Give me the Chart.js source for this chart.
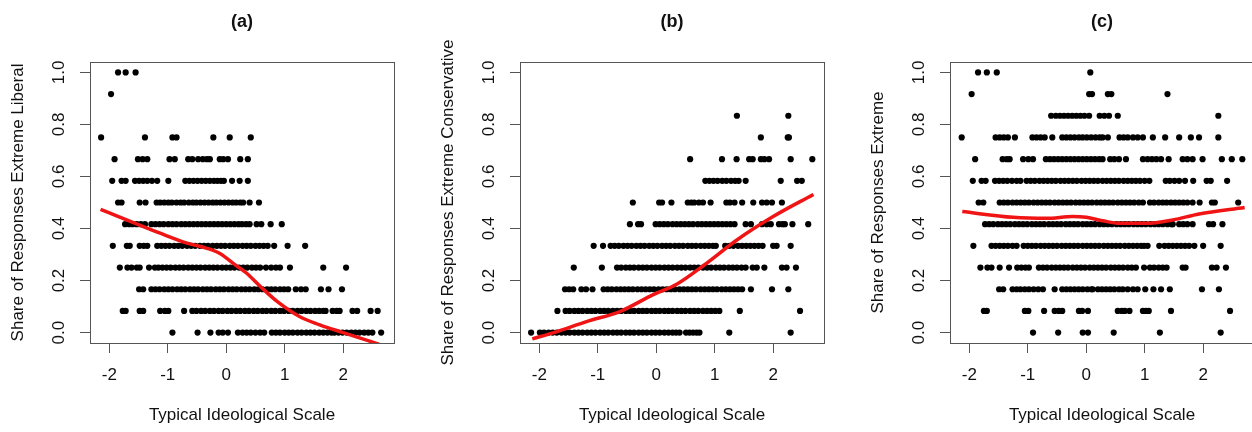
<!DOCTYPE html>
<html>
<head>
<meta charset="utf-8">
<script src="https://cdn.jsdelivr.net/npm/chart.js@4.4.1/dist/chart.umd.min.js"></script>
<style>
  html, body { margin: 0; padding: 0; background: #fff; overflow: hidden; }
  body { width: 1252px; height: 432px; position: relative; }
  canvas { position: absolute; top: 0; }
</style>
</head>
<body>
<canvas id="chartA" width="430" height="432" style="left:0px"></canvas>
<canvas id="chartB" width="430" height="432" style="left:430px"></canvas>
<canvas id="chartC" width="430" height="432" style="left:860px"></canvas>
<script>
// share levels: k/12 responses
const shareLevels = [0, 1/12, 2/12, 3/12, 4/12, 5/12, 6/12, 7/12, 8/12, 9/12, 10/12, 11/12, 1];
const xTicks = [-2, -1, 0, 1, 2];
const yTicks = [0, 0.2, 0.4, 0.6, 0.8, 1.0];

// x positions of the dots on each share level (index = level k)
const liberalRows = [
  [-0.92, -0.49, -0.27, -0.13, -0.06, 0.03, 0.20, 0.28, 0.35, 0.42, 0.50, 0.58, 0.65, 0.78, 0.85, 0.92, 1.00, 1.07, 1.14, 1.22, 1.29, 1.37, 1.44, 1.51, 1.59, 1.66, 1.73, 1.80, 1.85, 1.92, 1.99, 2.06, 2.14, 2.21, 2.28, 2.36, 2.43, 2.50, 2.65],
  [-1.77, -1.72, -1.48, -1.42, -1.13, -1.05, -0.99, -0.72, -0.58, -0.51, -0.43, -0.36, -0.28, -0.21, -0.13, -0.06, 0.02, 0.09, 0.17, 0.24, 0.32, 0.39, 0.47, 0.54, 0.62, 0.69, 0.77, 0.84, 0.92, 0.99, 1.07, 1.14, 1.22, 1.29, 1.37, 1.44, 1.52, 1.59, 1.66, 1.70, 1.82, 1.89, 1.94, 2.16, 2.24, 2.47, 2.59],
  [-1.49, -1.42, -1.28, -1.21, -1.14, -1.06, -0.99, -0.92, -0.84, -0.77, -0.70, -0.62, -0.55, -0.48, -0.40, -0.33, -0.26, -0.18, -0.11, -0.04, 0.04, 0.11, 0.18, 0.26, 0.33, 0.40, 0.48, 0.55, 0.62, 0.70, 0.77, 0.84, 0.92, 0.99, 1.06, 1.19, 1.28, 1.36, 1.62, 1.75, 1.98],
  [-1.82, -1.69, -1.62, -1.53, -1.48, -1.32, -1.22, -1.16, -1.09, -1.02, -0.95, -0.87, -0.80, -0.73, -0.65, -0.58, -0.51, -0.44, -0.36, -0.29, -0.22, -0.15, -0.07, 0.00, 0.07, 0.14, 0.22, 0.29, 0.36, 0.44, 0.51, 0.58, 0.68, 0.77, 0.85, 0.92, 1.09, 1.66, 2.05],
  [-1.94, -1.70, -1.65, -1.48, -1.41, -1.35, -1.18, -1.11, -1.04, -0.97, -0.89, -0.82, -0.75, -0.67, -0.60, -0.53, -0.45, -0.38, -0.31, -0.23, -0.16, -0.09, -0.02, 0.06, 0.13, 0.20, 0.28, 0.35, 0.42, 0.50, 0.57, 0.64, 0.71, 0.82, 1.05, 1.35],
  [-1.73, -1.66, -1.60, -1.53, -1.46, -1.39, -1.28, -1.21, -1.14, -1.07, -0.99, -0.92, -0.85, -0.77, -0.70, -0.63, -0.56, -0.49, -0.42, -0.35, -0.28, -0.21, -0.14, -0.07, 0.00, 0.07, 0.14, 0.21, 0.27, 0.34, 0.40, 0.52, 0.60, 0.76, 0.95],
  [-1.85, -1.79, -1.48, -1.38, -1.19, -1.13, -1.06, -0.99, -0.93, -0.85, -0.78, -0.72, -0.64, -0.57, -0.51, -0.44, -0.37, -0.30, -0.23, -0.17, -0.10, -0.03, 0.04, 0.11, 0.17, 0.24, 0.29, 0.40, 0.56],
  [-1.95, -1.79, -1.72, -1.56, -1.49, -1.42, -1.35, -1.27, -1.18, -0.99, -0.70, -0.63, -0.56, -0.49, -0.42, -0.35, -0.28, -0.21, -0.15, -0.09, -0.04, 0.10, 0.23, 0.37],
  [-1.91, -1.51, -1.43, -1.35, -0.97, -0.88, -0.65, -0.58, -0.48, -0.40, -0.33, -0.28, -0.11, -0.05, 0.03, 0.24, 0.37],
  [-2.14, -1.39, -0.92, -0.85, -0.22, 0.06, 0.42],
  [],
  [-1.97],
  [-1.85, -1.72, -1.55]
];

const conservativeRows = [
  [-2.14, -1.99, -1.92, -1.84, -1.77, -1.70, -1.62, -1.55, -1.48, -1.40, -1.33, -1.26, -1.18, -1.11, -1.04, -0.96, -0.89, -0.82, -0.74, -0.67, -0.60, -0.52, -0.45, -0.38, -0.30, -0.23, -0.16, -0.08, -0.01, 0.06, 0.14, 0.21, 0.28, 0.34, 0.40, 0.51, 0.57, 0.63, 0.69, 0.74, 1.25, 2.30],
  [-1.69, -1.55, -1.48, -1.40, -1.33, -1.26, -1.18, -1.11, -1.04, -0.96, -0.89, -0.82, -0.74, -0.67, -0.60, -0.52, -0.45, -0.38, -0.30, -0.23, -0.16, -0.08, -0.01, 0.06, 0.14, 0.21, 0.28, 0.36, 0.43, 0.50, 0.58, 0.65, 0.72, 0.80, 0.87, 0.94, 1.01, 1.08, 1.43, 2.46],
  [-1.56, -1.49, -1.42, -1.28, -1.20, -1.09, -0.90, -0.83, -0.76, -0.68, -0.61, -0.54, -0.47, -0.40, -0.32, -0.25, -0.18, -0.11, -0.04, 0.04, 0.11, 0.18, 0.25, 0.32, 0.40, 0.47, 0.54, 0.61, 0.68, 0.76, 0.83, 0.90, 0.97, 1.04, 1.12, 1.19, 1.26, 1.33, 1.40, 1.47, 1.62, 1.98, 2.26],
  [-1.41, -0.93, -0.67, -0.60, -0.52, -0.45, -0.38, -0.30, -0.23, -0.16, -0.08, -0.01, 0.06, 0.14, 0.21, 0.28, 0.36, 0.43, 0.50, 0.58, 0.65, 0.72, 0.80, 0.87, 0.94, 1.02, 1.09, 1.16, 1.24, 1.31, 1.38, 1.46, 1.53, 1.65, 1.72, 1.85, 2.15, 2.23, 2.39],
  [-1.07, -0.91, -0.78, -0.71, -0.64, -0.56, -0.49, -0.42, -0.34, -0.27, -0.20, -0.12, -0.05, 0.02, 0.10, 0.17, 0.24, 0.32, 0.39, 0.46, 0.54, 0.61, 0.68, 0.76, 0.83, 0.90, 0.97, 1.02, 1.18, 1.25, 1.32, 1.40, 1.47, 1.54, 1.61, 1.68, 1.75, 1.82, 2.00, 2.06, 2.30],
  [-0.45, -0.31, -0.26, -0.01, 0.06, 0.13, 0.20, 0.28, 0.35, 0.42, 0.49, 0.56, 0.63, 0.71, 0.78, 0.85, 0.92, 0.99, 1.06, 1.13, 1.20, 1.27, 1.34, 1.53, 1.62, 1.81, 1.89, 1.96, 2.10, 2.16, 2.20, 2.33, 2.60],
  [-0.40, 0.05, 0.10, 0.26, 0.54, 0.60, 0.65, 0.73, 0.80, 0.93, 1.20, 1.26, 1.34, 1.47, 1.66, 1.81, 1.89, 1.98, 2.15],
  [0.84, 0.91, 0.98, 1.05, 1.13, 1.20, 1.28, 1.35, 1.41, 1.53, 2.13, 2.41, 2.49],
  [0.58, 1.125, 1.375, 1.59, 1.65, 1.79, 1.85, 1.93, 2.30, 2.67],
  [1.79, 2.25, 2.27],
  [1.38, 2.26],
  [],
  []
];

const extremeRows = [
  [-0.91, -0.48, -0.06, 0.03, 0.47, 1.26, 2.30],
  [-1.75, -1.70, -1.05, -0.99, -0.72, -0.54, -0.47, -0.41, -0.125, -0.07, 0.03, 0.54, 0.61, 0.66, 0.74, 0.97, 1.02, 1.07, 1.45, 2.46],
  [-1.49, -1.42, -1.26, -1.19, -1.125, -1.05, -0.98, -0.90, -0.82, -0.74, -0.54, -0.41, -0.34, -0.27, -0.20, -0.13, -0.06, 0.02, 0.09, 0.11, 0.20, 0.27, 0.34, 0.41, 0.48, 0.56, 0.625, 0.71, 0.80, 0.88, 1.01, 1.15, 1.28, 1.43, 1.98, 2.27],
  [-1.81, -1.69, -1.62, -1.48, -1.32, -1.18, -1.11, -1.04, -0.98, -0.81, -0.74, -0.67, -0.59, -0.52, -0.45, -0.38, -0.31, -0.23, -0.16, -0.09, -0.02, 0.06, 0.13, 0.20, 0.27, 0.34, 0.42, 0.49, 0.56, 0.63, 0.71, 0.78, 0.85, 0.99, 1.09, 1.16, 1.24, 1.31, 1.375, 1.65, 1.70, 2.15, 2.23, 2.39],
  [-1.93, -1.62, -1.55, -1.48, -1.41, -1.34, -1.26, -1.19, -1.07, -1.00, -0.93, -0.86, -0.78, -0.71, -0.64, -0.57, -0.50, -0.42, -0.35, -0.28, -0.21, -0.14, -0.06, 0.01, 0.08, 0.15, 0.22, 0.30, 0.37, 0.44, 0.51, 0.58, 0.66, 0.73, 0.80, 0.87, 0.94, 0.99, 1.05, 1.25, 1.34, 1.41, 1.48, 1.55, 1.62, 1.69, 1.76, 1.85, 2.00, 2.30],
  [-1.73, -1.66, -1.59, -1.51, -1.44, -1.37, -1.30, -1.22, -1.15, -1.08, -1.01, -0.93, -0.86, -0.79, -0.72, -0.64, -0.57, -0.50, -0.43, -0.35, -0.28, -0.21, -0.14, -0.06, 0.01, 0.08, 0.15, 0.23, 0.30, 0.37, 0.44, 0.52, 0.59, 0.66, 0.73, 0.81, 0.88, 0.95, 1.02, 1.10, 1.17, 1.24, 1.31, 1.39, 1.46, 1.48, 1.59, 1.66, 1.73, 1.82, 2.10, 2.17, 2.33],
  [-1.84, -1.76, -1.48, -1.41, -1.34, -1.26, -1.19, -1.12, -1.05, -0.98, -0.90, -0.83, -0.76, -0.69, -0.62, -0.54, -0.47, -0.40, -0.33, -0.26, -0.18, -0.11, -0.04, 0.03, 0.10, 0.18, 0.25, 0.32, 0.39, 0.46, 0.54, 0.61, 0.68, 0.75, 0.82, 0.90, 0.97, 1.09, 1.16, 1.24, 1.31, 1.375, 1.45, 1.52, 1.59, 1.66, 1.73, 1.82, 1.94, 2.15, 2.20, 2.60],
  [-1.94, -1.79, -1.72, -1.56, -1.49, -1.42, -1.35, -1.27, -1.19, -1.125, -1.02, -0.95, -0.88, -0.80, -0.73, -0.66, -0.59, -0.52, -0.44, -0.37, -0.30, -0.23, -0.16, -0.08, -0.01, 0.06, 0.13, 0.20, 0.28, 0.35, 0.42, 0.49, 0.56, 0.64, 0.71, 0.78, 0.85, 0.92, 1.00, 1.08, 1.36, 1.43, 1.51, 1.59, 1.69, 1.83, 2.06, 2.13, 2.41],
  [-1.90, -1.43, -1.36, -1.31, -1.08, -0.99, -0.91, -0.69, -0.62, -0.55, -0.48, -0.41, -0.34, -0.27, -0.20, -0.13, -0.06, 0.01, 0.08, 0.15, 0.22, 0.28, 0.41, 0.48, 0.56, 0.68, 0.97, 1.05, 1.125, 1.20, 1.28, 1.41, 1.65, 1.73, 1.82, 1.99, 2.32, 2.49, 2.67],
  [-2.13, -1.55, -1.48, -1.41, -1.34, -1.22, -0.92, -0.85, -0.78, -0.71, -0.58, -0.41, -0.34, -0.27, -0.20, -0.125, -0.06, 0.01, 0.085, 0.16, 0.23, 0.28, 0.37, 0.57, 0.64, 0.71, 0.80, 0.88, 0.97, 1.14, 1.35, 1.59, 1.79, 1.93, 2.26],
  [-0.60, -0.52, -0.45, -0.38, -0.31, -0.24, -0.17, -0.10, -0.03, 0.05, 0.23, 0.31, 0.39, 0.54, 2.26],
  [-1.96, 0.05, 0.10, 0.37, 0.43, 1.39],
  [-1.85, -1.70, -1.53, 0.07]
];

// smoothed (loess) fits
const liberalFitX = [-2.15, -1.13, -0.67, -0.33, -0.10, 0.12, 0.35, 0.58, 0.87, 1.26, 1.60, 2.0, 2.62];
const liberalFitY = [0.474, 0.382, 0.344, 0.324, 0.303, 0.266, 0.228, 0.178, 0.12, 0.061, 0.030, 0.0, -0.045];
const conservativeFitX = [-2.12, -1.75, -1.18, -0.61, -0.05, 0.35, 0.81, 1.38, 2.0, 2.69];
const conservativeFitY = [-0.024, 0.0, 0.043, 0.082, 0.146, 0.186, 0.258, 0.356, 0.446, 0.531];
const extremeFitX = [-2.12, -1.25, -0.68, -0.23, 0.0, 0.28, 0.57, 1.02, 1.48, 1.93, 2.71];
const extremeFitY = [0.465, 0.443, 0.439, 0.446, 0.443, 0.430, 0.420, 0.420, 0.433, 0.456, 0.481];

const FONT = "'Liberation Sans', Arial, Helvetica, sans-serif";
const TEXT = '#111';
const AXIS = '#555';

// draws the R-style box round the plot region
const boxPlugin = {
  id: 'rbox',
  afterDraw(chart) {
    const a = chart.chartArea, ctx = chart.ctx;
    ctx.save();
    ctx.strokeStyle = AXIS;
    ctx.lineWidth = 1;
    ctx.strokeRect(Math.round(a.left) + 0.5, Math.round(a.top) + 0.5,
                   Math.round(a.right - a.left), Math.round(a.bottom - a.top));
    ctx.restore();
  }
};

function makePanel(id, title, yTitle, rows, fitX, fitY) {
  const points = [];
  rows.forEach((row, k) => row.forEach(x => points.push({ x: x, y: shareLevels[k] })));
  const fit = fitX.map((x, i) => ({ x: x, y: fitY[i] }));

  new Chart(document.getElementById(id), {
    type: 'scatter',
    data: {
      datasets: [
        {
          type: 'line',
          data: fit,
          borderColor: '#f01414',
          borderWidth: 3.5,
          pointRadius: 0,
          fill: false,
          cubicInterpolationMode: 'monotone',
          clip: 0
        },
        {
          data: points,
          backgroundColor: '#000',
          borderColor: '#000',
          borderWidth: 0,
          pointRadius: 3.1
        }
      ]
    },
    options: {
      responsive: false,
      animation: false,
      events: [],
      layout: { padding: { top: 0, right: 36, bottom: 0, left: 0 } },
      plugins: {
        legend: { display: false },
        tooltip: { enabled: false },
        title: {
          display: true,
          text: title,
          fullSize: false,
          color: TEXT,
          font: { family: FONT, size: 18, weight: 'bold' },
          padding: { top: 11, bottom: 29.4 }
        }
      },
      scales: {
        x: {
          type: 'linear',
          min: -2.33,
          max: 2.87,
          afterBuildTicks: s => { s.ticks = xTicks.map(v => ({ value: v })); },
          afterFit: s => { s.height = 89; },
          ticks: {
            callback: v => String(v),
            color: TEXT,
            font: { family: FONT, size: 17 },
            padding: 12,
            maxRotation: 0,
            autoSkip: false
          },
          grid: { drawOnChartArea: false, drawTicks: true, tickLength: 10, color: AXIS },
          border: { display: true, color: AXIS },
          title: {
            display: true,
            text: 'Typical Ideological Scale',
            color: TEXT,
            font: { family: FONT, size: 17 },
            padding: { top: 0, bottom: 6 }
          }
        },
        y: {
          type: 'linear',
          min: -0.04,
          max: 1.04,
          afterBuildTicks: s => { s.ticks = yTicks.map(v => ({ value: v })); },
          afterFit: s => { s.width = 90; },
          ticks: {
            callback: v => v.toFixed(1),
            color: TEXT,
            font: { family: FONT, size: 17 },
            minRotation: 90,
            maxRotation: 90,
            crossAlign: 'center',
            padding: 9,
            autoSkip: false
          },
          grid: { drawOnChartArea: false, drawTicks: true, tickLength: 10, color: AXIS },
          border: { display: true, color: AXIS },
          title: {
            display: true,
            text: yTitle,
            color: TEXT,
            font: { family: FONT, size: 17 },
            padding: { top: 8, bottom: 0 }
          }
        }
      }
    },
    plugins: [boxPlugin]
  });
}

makePanel('chartA', '(a)', 'Share of Responses Extreme Liberal', liberalRows, liberalFitX, liberalFitY);
makePanel('chartB', '(b)', 'Share of Responses Extreme Conservative', conservativeRows, conservativeFitX, conservativeFitY);
makePanel('chartC', '(c)', 'Share of Responses Extreme', extremeRows, extremeFitX, extremeFitY);
</script>
</body>
</html>
